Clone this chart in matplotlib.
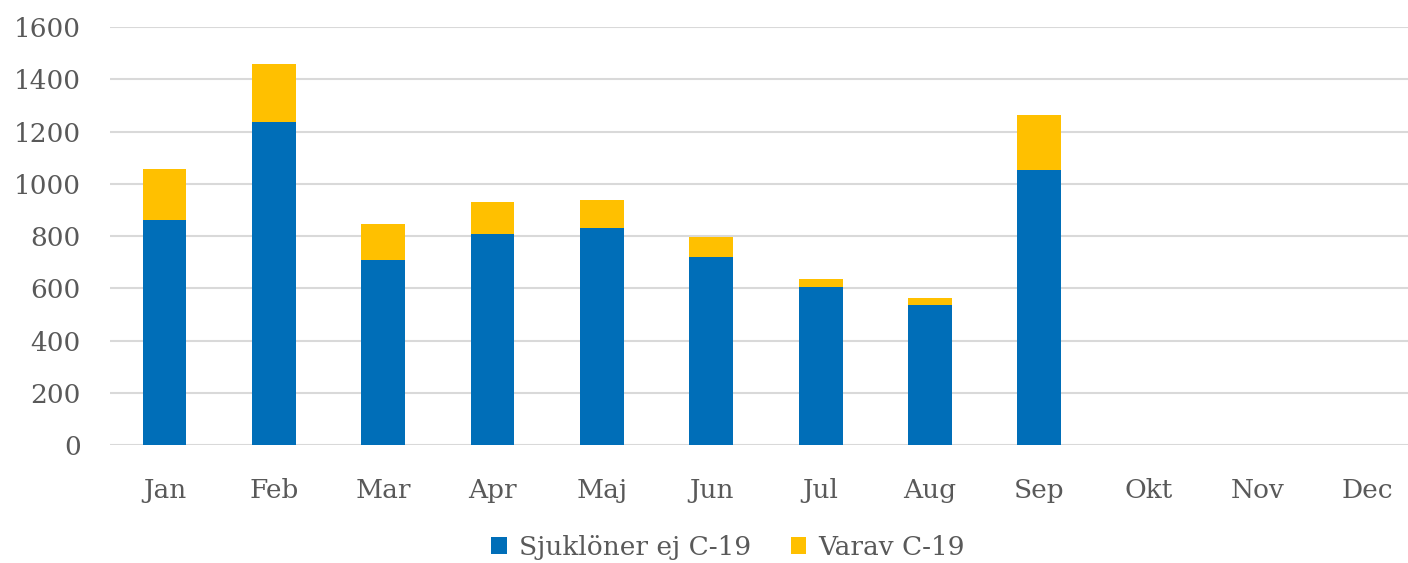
import numpy as np
import matplotlib.pyplot as plt

months = ['Jan', 'Feb', 'Mar', 'Apr', 'Maj', 'Jun', 'Jul', 'Aug', 'Sep', 'Okt', 'Nov', 'Dec']
ej_c19 = [861, 1236, 708, 808, 831, 720, 605, 536, 1053, 0, 0, 0]
varav_c19 = [196, 222, 138, 122, 107, 76, 30, 27, 210, 0, 0, 0]

plt.rcParams['font.family'] = ['DejaVu Serif']
grey = '#595959'

fig = plt.figure(figsize=(14.08, 5.63), dpi=100)
ax = fig.add_axes([0.078, 0.2096, 0.932, 0.7424])

x = np.arange(len(months))
ax.bar(x, ej_c19, width=0.40, color='#006EB8', label='Sjuklöner ej C-19', zorder=3)
ax.bar(x, varav_c19, width=0.40, bottom=ej_c19, color='#FFC000', label='Varav C-19', zorder=3)

ax.set_xlim(-0.5, 11.5)
ax.set_ylim(0, 1600)
ax.set_yticks(range(0, 1601, 200))
ax.set_xticks(x)
ax.set_xticklabels(months)
ax.yaxis.grid(True, color='#d9d9d9', lw=1.5, zorder=0)
ax.set_axisbelow(True)
for s in ax.spines.values():
    s.set_visible(False)
ax.tick_params(axis='both', length=0, colors=grey, labelsize=19)
ax.tick_params(axis='x', pad=24)
ax.tick_params(axis='y', pad=21)

fig.legend(loc='center', bbox_to_anchor=(0.517, 0.028), ncol=2, frameon=False,
           fontsize=19, labelcolor=grey, handlelength=0.6, handleheight=0.6,
           handletextpad=0.45, columnspacing=1.5)

fig.savefig('out.png', dpi=100)
